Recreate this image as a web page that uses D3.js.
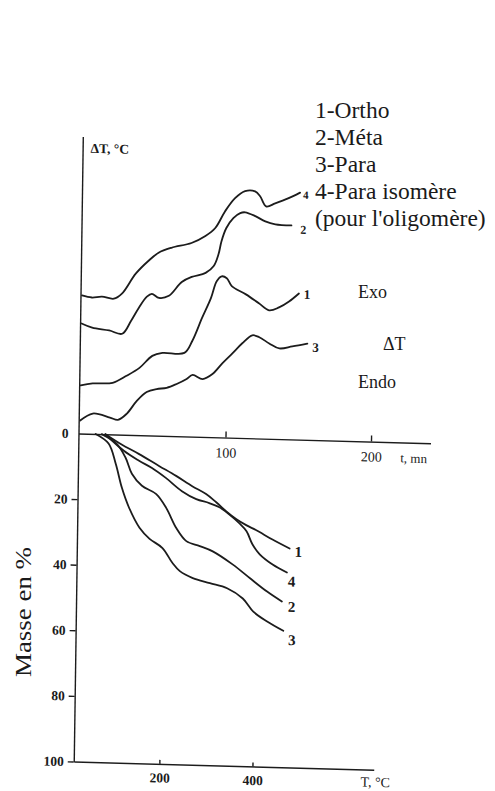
<!DOCTYPE html>
<html>
<head>
<meta charset="utf-8">
<script src="https://cdn.jsdelivr.net/npm/d3@7"></script>
<style>
  html, body { margin: 0; padding: 0; background: #fff; }
  svg { display: block; }
  text { font-family: "Liberation Serif", "Times New Roman", serif; fill: #1a1a1a; }
</style>
</head>
<body>
<svg id="chart" width="495" height="791"></svg>
<script>
// ---- DTA curves: time (min) against ΔT (arbitrary units, curves stacked) ----
const dta1Time = [0, 8.2, 21.9, 31.4, 40.2, 48.9, 55.8, 70.9, 76.2, 82.7, 88.6, 92.4, 95.8, 99.3, 102.8, 112.6, 121.6, 128.7, 135.5, 142.3, 149.0];
const dta1Delta = [1.63, 1.71, 1.75, 2.00, 2.28, 2.70, 2.81, 2.83, 3.24, 4.03, 4.71, 5.29, 5.46, 5.40, 5.14, 4.87, 4.58, 4.35, 4.46, 4.67, 4.95];

const dta2Time = [0, 7.3, 19.0, 28.0, 34.0, 39.2, 44.6, 48.0, 52.9, 59.7, 68.4, 75.2, 84.7, 90.2, 93.4, 95.3, 98.5, 103.2, 107.9, 111.3, 118.3, 125.2, 132.1, 143.2];
const dta2Delta = [3.73, 3.60, 3.52, 3.42, 3.87, 4.32, 4.70, 4.80, 4.67, 4.75, 5.23, 5.41, 5.56, 5.80, 6.21, 6.65, 7.10, 7.44, 7.62, 7.65, 7.53, 7.36, 7.27, 7.25];

const dta3Time = [0, 8.6, 20.4, 25.9, 32.0, 38.7, 45.4, 52.2, 59.1, 65.9, 72.7, 76.8, 83.7, 90.4, 97.2, 103.9, 110.6, 117.4, 122.2, 129.1, 136.1, 145.0, 155.3];
const dta3Delta = [0.44, 0.69, 0.57, 0.50, 0.72, 1.16, 1.47, 1.58, 1.63, 1.77, 1.95, 2.09, 1.96, 2.14, 2.52, 2.86, 3.21, 3.49, 3.43, 3.23, 3.07, 3.15, 3.26];

const dta4Time = [0, 6.8, 13.7, 21.9, 27.4, 36.7, 45.4, 52.2, 61.0, 74.7, 84.2, 90.9, 97.5, 104.2, 111.0, 117.9, 121.4, 125.6, 131.8, 140.6, 148.8];
const dta4Delta = [4.68, 4.62, 4.66, 4.60, 4.78, 5.47, 5.92, 6.20, 6.38, 6.56, 6.81, 7.09, 7.67, 8.12, 8.37, 8.37, 8.21, 7.87, 7.98, 8.16, 8.37];

// ---- TG curves: temperature (°C) against mass loss (%) ----
const tg1Temp = [74, 109, 146, 190, 227, 262, 292, 314, 336, 358, 380, 401, 436, 473];
const tg1Mass = [0, 3.0, 5.7, 9.2, 12.1, 15.1, 17.4, 19.8, 22.5, 24.8, 26.6, 28.0, 30.7, 33.3];

const tg2Temp = [66, 98, 118, 132, 154, 185, 207, 229, 251, 280, 308, 351, 389, 426, 458];
const tg2Mass = [0, 2.8, 7.0, 11.8, 15.4, 17.8, 22.0, 28.0, 31.9, 33.3, 34.8, 38.6, 42.7, 46.6, 49.5];

const tg3Temp = [53, 81, 97, 111, 127, 150, 172, 200, 222, 238, 266, 303, 340, 374, 397, 427, 462];
const tg3Mass = [0, 2.8, 8.9, 16.2, 22.2, 28.2, 31.5, 34.2, 38.7, 41.1, 43.1, 44.5, 45.9, 48.9, 52.8, 55.7, 58.4];

const tg4Temp = [74, 114, 147, 175, 205, 240, 271, 299, 321, 342, 364, 380, 393, 409, 437, 468];
const tg4Mass = [0, 4.9, 7.8, 9.9, 12.8, 16.7, 19.0, 20.1, 21.3, 23.4, 26.0, 28.4, 32.3, 35.3, 38.3, 40.6];

// ---- labels and ticks ----
const curveIds = ["1", "2", "3", "4"];
const legendLines = ["1-Ortho", "2-Méta", "3-Para", "4-Para isomère", "(pour l'oligomère)"];
const timeTicks = [100, 200];
const tempTicks = [200, 400];
const massTicks = [0, 20, 40, 60, 80, 100];
const sideNotes = ["Exo", "ΔT", "Endo"];

// ---------------------------------------------------------------
const zip = (a, b) => a.map((v, i) => [v, b[i]]);
const dtaSeries = [
  { id: curveIds[0], pts: zip(dta1Time, dta1Delta) },
  { id: curveIds[1], pts: zip(dta2Time, dta2Delta) },
  { id: curveIds[2], pts: zip(dta3Time, dta3Delta) },
  { id: curveIds[3], pts: zip(dta4Time, dta4Delta) }
];
const tgSeries = [
  { id: curveIds[0], pts: zip(tg1Temp, tg1Mass) },
  { id: curveIds[1], pts: zip(tg2Temp, tg2Mass) },
  { id: curveIds[2], pts: zip(tg3Temp, tg3Mass) },
  { id: curveIds[3], pts: zip(tg4Temp, tg4Mass) }
];

// label placement next to each curve end (style only)
const dtaLabelStyle = {
  "1": { dx: 5, dy: 5, size: 13 },
  "2": { dx: 9, dy: 8, size: 12 },
  "3": { dx: 5, dy: 8, size: 13 },
  "4": { dx: 3, dy: 6, size: 11 }
};
const tgLabelStyle = {
  "1": { dx: 5, dy: 8 },
  "2": { dx: 6, dy: 10 },
  "3": { dx: 5, dy: 14 },
  "4": { dx: 1, dy: 14 }
};

const serif = '"Liberation Serif", "Times New Roman", serif';
const svg = d3.select("#chart");
svg.append("rect").attr("width", 495).attr("height", 791).attr("fill", "#fff");

// the drawing sits on a slightly tilted frame anchored at the shared origin
const frame = svg.append("g")
  .attr("transform", "translate(78.5,433.5) matrix(1,0.0275,-0.0145,1,0,0)");

// scales
const tScale = d3.scaleLinear().domain([0, 240]).range([1.5, 1.5 + 1.455 * 240]);
const dScale = d3.scaleLinear().domain([0, 10]).range([0, -295]);
const TScale = d3.scaleLinear().domain([0, 700]).range([-7.5, -7.5 + 0.4655 * 700]);
const mScale = d3.scaleLinear().domain([0, 100]).range([0, 328]);

const ink = "#1c1c1c";

function styleAxis(g, size, weight) {
  g.attr("font-family", null).attr("font-size", null);
  g.selectAll("path, line").attr("stroke", ink).attr("stroke-width", 1.4);
  g.selectAll("text")
    .style("font-family", serif)
    .style("font-size", size + "px")
    .style("font-weight", weight)
    .attr("fill", ink);
}

// ΔT axis (no ticks)
const dAxisScale = dScale.copy().domain([0, dScale.invert(-297)]).range([0, -297]);
frame.append("g")
  .call(d3.axisLeft(dAxisScale).tickValues([]).tickSizeOuter(0))
  .call(g => styleAxis(g, 13, 700));

// time axis
const tAxisScale = tScale.copy().domain([tScale.invert(0), tScale.invert(352)]).range([0, 352]);
frame.append("g")
  .call(d3.axisBottom(tAxisScale).tickValues(timeTicks).tickSizeInner(-6).tickSizeOuter(0).tickPadding(10))
  .call(g => styleAxis(g, 14, 400));

// mass axis
frame.append("g")
  .call(d3.axisLeft(mScale).tickValues(massTicks).tickSize(6).tickPadding(4).tickSizeOuter(0))
  .call(g => {
    styleAxis(g, 13.5, 700);
    g.selectAll(".tick").filter(d => d === 0).select("line").remove();
  });

// temperature axis
const TAxisScale = TScale.copy().domain([TScale.invert(0), TScale.invert(300)]).range([0, 300]);
frame.append("g")
  .attr("transform", `translate(0,${mScale(100)})`)
  .call(d3.axisBottom(TAxisScale).tickValues(tempTicks).tickSizeInner(-4).tickSizeOuter(0).tickPadding(9))
  .call(g => styleAxis(g, 13.5, 700));

// axis titles
frame.append("text")
  .attr("x", 8).attr("y", -281)
  .style("font-family", serif)
  .style("font-size", "13.5px").style("font-weight", 700)
  .text("ΔT, °C");
frame.append("text")
  .attr("x", 322).attr("y", 20)
  .style("font-family", serif)
  .style("font-size", "13px")
  .text("t, mn");
frame.append("text")
  .attr("x", 287).attr("y", 345)
  .style("font-family", serif)
  .style("font-size", "14px")
  .text("T, °C");

// curves
const dtaLine = d3.line()
  .x(d => tScale(d[0])).y(d => dScale(d[1]))
  .curve(d3.curveCatmullRom.alpha(0.5));
const tgLine = d3.line()
  .x(d => TScale(d[0])).y(d => mScale(d[1]))
  .curve(d3.curveCatmullRom.alpha(0.5));

frame.append("g").selectAll("path")
  .data(dtaSeries).join("path")
  .attr("d", s => dtaLine(s.pts))
  .attr("fill", "none").attr("stroke", ink)
  .attr("stroke-width", 1.8).attr("stroke-linejoin", "round").attr("stroke-linecap", "round");

frame.append("g").selectAll("path")
  .data(tgSeries).join("path")
  .attr("d", s => tgLine(s.pts))
  .attr("fill", "none").attr("stroke", ink)
  .attr("stroke-width", 1.8).attr("stroke-linejoin", "round").attr("stroke-linecap", "round");

// curve numbers at their ends
frame.append("g").selectAll("text")
  .data(dtaSeries).join("text")
  .attr("x", s => tScale(s.pts[s.pts.length - 1][0]) + dtaLabelStyle[s.id].dx)
  .attr("y", s => dScale(s.pts[s.pts.length - 1][1]) + dtaLabelStyle[s.id].dy)
  .style("font-family", serif)
  .style("font-size", s => dtaLabelStyle[s.id].size + "px")
  .style("font-weight", 700)
  .text(s => s.id);

frame.append("g").selectAll("text")
  .data(tgSeries).join("text")
  .attr("x", s => TScale(s.pts[s.pts.length - 1][0]) + tgLabelStyle[s.id].dx)
  .attr("y", s => mScale(s.pts[s.pts.length - 1][1]) + tgLabelStyle[s.id].dy)
  .style("font-family", serif)
  .style("font-size", "15px")
  .style("font-weight", 700)
  .text(s => s.id);

// legend
svg.append("g").selectAll("text")
  .data(legendLines).join("text")
  .attr("x", 315)
  .attr("y", (d, i) => 118 + i * 27)
  .style("font-family", serif)
  .style("font-size", "23.5px")
  .text(d => d);

// Exo / ΔT / Endo notes
const notePos = [[358, 298], [383, 350], [358, 388]];
svg.append("g").selectAll("text")
  .data(sideNotes).join("text")
  .attr("x", (d, i) => notePos[i][0])
  .attr("y", (d, i) => notePos[i][1])
  .style("font-family", serif)
  .style("font-size", "18px")
  .text(d => d);

// mass axis title
svg.append("text")
  .attr("transform", "translate(31,612) rotate(-90)")
  .attr("text-anchor", "middle")
  .attr("textLength", 130)
  .attr("lengthAdjust", "spacingAndGlyphs")
  .style("font-family", serif)
  .style("font-size", "23px")
  .text("Masse en %");
</script>
</body>
</html>
